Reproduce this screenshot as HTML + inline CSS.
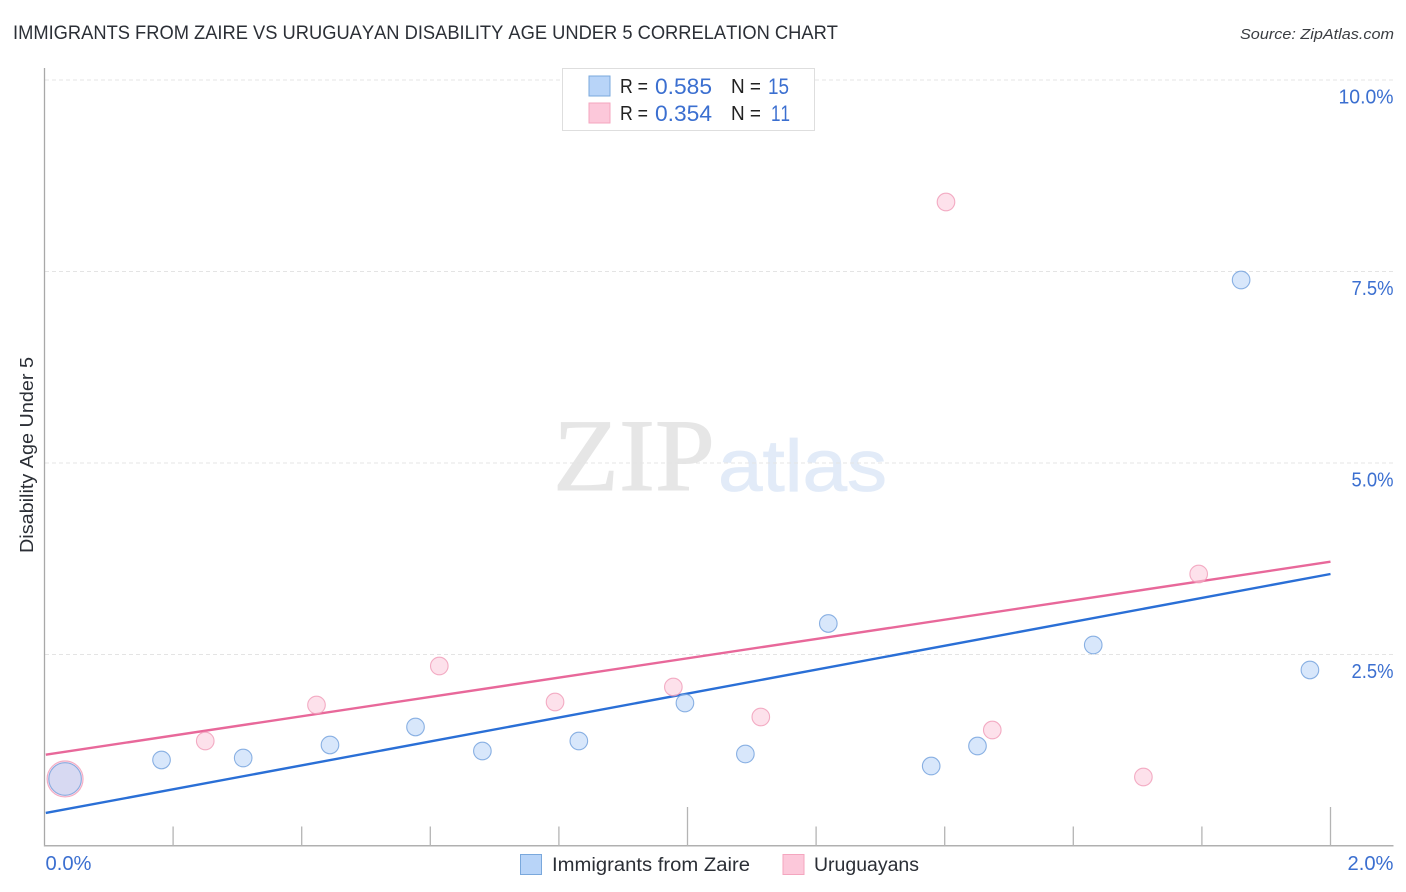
<!DOCTYPE html>
<html lang="en">
<head>
<meta charset="utf-8">
<title>Immigrants from Zaire vs Uruguayan Disability Age Under 5 Correlation Chart</title>
<style>
html,body{margin:0;padding:0;background:#fff;width:1406px;height:892px;overflow:hidden}
svg{display:block;font-family:"Liberation Sans",sans-serif;font-kerning:none}
</style>
</head>
<body>
<svg id="chart" width="1406" height="892" viewBox="0 0 1406 892" xmlns="http://www.w3.org/2000/svg">
  <rect x="0" y="0" width="1406" height="892" fill="#ffffff"/>
  <text x="13" y="39" font-size="19" fill="#2b2f36" textLength="825" lengthAdjust="spacingAndGlyphs">IMMIGRANTS FROM ZAIRE VS URUGUAYAN DISABILITY AGE UNDER 5 CORRELATION CHART</text>
  <text x="1394" y="39" font-size="15" font-style="italic" fill="#3a3d42" text-anchor="end" textLength="154" lengthAdjust="spacingAndGlyphs">Source: ZipAtlas.com</text>

  <g>
    <text x="553" y="490" font-family="'Liberation Serif',serif" font-size="103" fill="#e6e6e6" stroke="#e6e6e6" stroke-width="1" textLength="162" lengthAdjust="spacingAndGlyphs">ZIP</text>
    <text x="718" y="491" font-size="73" fill="#e2ebf8" stroke="#e2ebf8" stroke-width="0.8" textLength="169" lengthAdjust="spacingAndGlyphs">atlas</text>
  </g>

  <g id="grid"></g>
  <g id="axes"></g>
  <g id="trends"></g>
  <g id="points"></g>
  <g id="labels"></g>

  <text transform="translate(33,553) rotate(-90)" font-size="18" fill="#2b2f36" textLength="196" lengthAdjust="spacingAndGlyphs">Disability Age Under 5</text>

  <g>
    <rect x="562.5" y="68.5" width="252" height="62" fill="#ffffff" stroke="#dedede" stroke-width="1"/>
    <rect x="589" y="76" width="21" height="20" fill="#b8d4f8" stroke="#7aa8dc" stroke-width="1"/>
    <rect x="589" y="103" width="21" height="20" fill="#fcc8da" stroke="#f4a6bf" stroke-width="1"/>
    <text x="620" y="93" font-size="20" fill="#222" textLength="28" lengthAdjust="spacingAndGlyphs">R =</text>
    <text x="655" y="94" font-size="22" fill="#3b6fd0" textLength="57" lengthAdjust="spacingAndGlyphs">0.585</text>
    <text x="731" y="93" font-size="20" fill="#222" textLength="30" lengthAdjust="spacingAndGlyphs">N =</text>
    <text x="768" y="94" font-size="22" fill="#3b6fd0" textLength="21" lengthAdjust="spacingAndGlyphs">15</text>
    <text x="620" y="120" font-size="20" fill="#222" textLength="28" lengthAdjust="spacingAndGlyphs">R =</text>
    <text x="655" y="121" font-size="22" fill="#3b6fd0" textLength="57" lengthAdjust="spacingAndGlyphs">0.354</text>
    <text x="731" y="120" font-size="20" fill="#222" textLength="30" lengthAdjust="spacingAndGlyphs">N =</text>
    <text x="771" y="121" font-size="22" fill="#3b6fd0" textLength="19" lengthAdjust="spacingAndGlyphs">11</text>
  </g>

  <g>
    <rect x="520.5" y="854.5" width="21" height="20" fill="#b8d4f8" stroke="#7aa8dc" stroke-width="1"/>
    <text x="552" y="871" font-size="19" fill="#2b2f36" textLength="198" lengthAdjust="spacingAndGlyphs">Immigrants from Zaire</text>
    <rect x="783" y="854.5" width="21" height="20" fill="#fcc8da" stroke="#f4a6bf" stroke-width="1"/>
    <text x="814" y="871" font-size="19" fill="#2b2f36" textLength="105" lengthAdjust="spacingAndGlyphs">Uruguayans</text>
  </g>
</svg>
<script>
var yTickValues = [2.5, 5, 7.5, 10];
var yTickLabels = ["2.5%", "5.0%", "7.5%", "10.0%"];
var xEndValues = [0, 2];
var xEndLabels = ["0.0%", "2.0%"];
var xTickValues = [0, 0.2, 0.4, 0.6, 0.8, 1.0, 1.2, 1.4, 1.6, 1.8, 2.0];
var xMajorTicks = [1.0, 2.0];

var zaireX = [0.032, 0.182, 0.309, 0.444, 0.577, 0.681, 0.831, 0.996, 1.090, 1.219, 1.379, 1.451, 1.631, 1.861, 1.968];
var zaireY = [0.875, 1.123, 1.149, 1.319, 1.554, 1.240, 1.371, 1.867, 1.201, 2.905, 1.044, 1.305, 2.624, 7.389, 2.298];
var zaireLarge = [true, false, false, false, false, false, false, false, false, false, false, false, false, false, false];

var uruguayX = [0.032, 0.250, 0.423, 0.614, 0.794, 0.978, 1.114, 1.402, 1.474, 1.709, 1.795];
var uruguayY = [0.875, 1.371, 1.841, 2.350, 1.880, 2.076, 1.684, 8.407, 1.514, 0.901, 3.551];
var uruguayLarge = [true, false, false, false, false, false, false, false, false, false, false];

var trendX = [0.002, 2.0];
var zaireTrendY = [0.431, 3.551];
var uruguayTrendY = [1.192, 3.711];

var NS = "http://www.w3.org/2000/svg";
function xScale(v) { return 44.5 + v * 643; }
function yScale(v) { return 846 - v * 76.6; }
function make(tag, parent, attrs) {
  var el = document.createElementNS(NS, tag);
  for (var k in attrs) { el.setAttribute(k, attrs[k]); }
  document.getElementById(parent).appendChild(el);
  return el;
}

yTickValues.forEach(function (v) {
  var el = make("line", "grid", {x1: 45, x2: 1393, y1: yScale(v), y2: yScale(v), stroke: "#e4e4e4", "stroke-width": 1, "stroke-dasharray": "4 3"});
  
  
});

var yAxis = make("line", "axes", {x1: 44.5, x2: 44.5, y1: 68, y2: 846.5, stroke: "#a8a8a8", "stroke-width": 1.3});


var xAxis = make("line", "axes", {x1: 44, x2: 1393.5, y1: 845.8, y2: 845.8, stroke: "#b0b0b0", "stroke-width": 1.5});



xTickValues.forEach(function (v) {
  if (v === 0) { return; }
  var top = xMajorTicks.indexOf(v) >= 0 ? 807 : 826.5;
  var el = make("line", "axes", {x1: xScale(v), x2: xScale(v), y1: top, y2: 846, stroke: "#b4b4b4", "stroke-width": 1.3});
  
  
});

yTickValues.forEach(function (v, i) {
  var el = make("text", "labels", {x: 1393.5, y: yScale(v) + 23.5, "font-size": 20, fill: "#3b6fd0", "text-anchor": "end", textLength: yTickLabels[i].length > 4 ? 55 : 42, lengthAdjust: "spacingAndGlyphs"});
  el.textContent = yTickLabels[i];
  
  
});

xEndValues.forEach(function (v, i) {
  var el = make("text", "labels", {x: i === 0 ? xScale(v) + 1 : 1393.5, y: 870, "font-size": 20, fill: "#3b6fd0", "text-anchor": i === 0 ? "start" : "end", textLength: 46, lengthAdjust: "spacingAndGlyphs"});
  el.textContent = xEndLabels[i];
  
  
});

function drawPoints(xs, ys, large, largeRadius, fill, stroke, name) {
  xs.forEach(function (v, i) {
    var el = make("circle", "points", {cx: xScale(v), cy: yScale(ys[i]), r: large[i] ? largeRadius : 8.8, fill: fill, "fill-opacity": 0.55, stroke: stroke, "stroke-opacity": 0.8, "stroke-width": 1.1});
    
    
  });
}
drawPoints(uruguayX, uruguayY, uruguayLarge, 18, "#fcc8da", "#f09ab6", "uruguayans-point");
drawPoints(zaireX, zaireY, zaireLarge, 16.3, "#b8d4f8", "#6f9fdc", "zaire-point");

function drawTrend(ys, color, name) {
  var el = make("line", "trends", {x1: xScale(trendX[0]), x2: xScale(trendX[1]), y1: yScale(ys[0]), y2: yScale(ys[1]), stroke: color, "stroke-width": 2.4});
  
  
}
drawTrend(zaireTrendY, "#2a6fd6", "zaire-trend-line");
drawTrend(uruguayTrendY, "#e8689a", "uruguayans-trend-line");
</script>
</body>
</html>
